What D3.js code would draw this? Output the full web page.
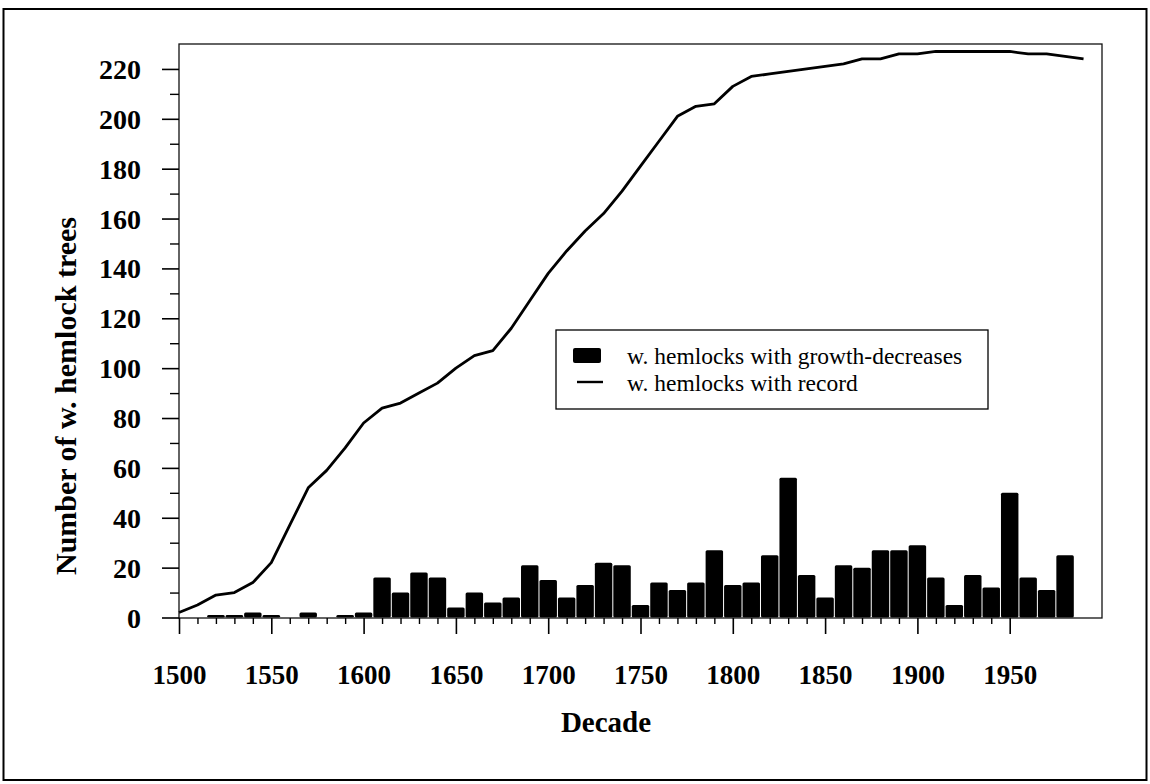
<!DOCTYPE html>
<html>
<head>
<meta charset="utf-8">
<script src="https://cdn.jsdelivr.net/npm/d3@7"></script>
<style>
    body { margin: 0; background: #fff; }
    svg { display: block; }
    .tick text { font-family: "Liberation Serif", "Times New Roman", serif; font-weight: bold; }
</style>
</head>
<body>
<svg width="1150" height="784"></svg>
<script>
// decade categories (x)
const decades = [1500, 1510, 1520, 1530, 1540, 1550, 1560, 1570, 1580, 1590,
    1600, 1610, 1620, 1630, 1640, 1650, 1660, 1670, 1680, 1690,
    1700, 1710, 1720, 1730, 1740, 1750, 1760, 1770, 1780, 1790,
    1800, 1810, 1820, 1830, 1840, 1850, 1860, 1870, 1880, 1890,
    1900, 1910, 1920, 1930, 1940, 1950, 1960, 1970, 1980, 1990];

// w. hemlocks with record (line)
const withRecord = [2, 5, 9, 10, 14, 22, 37, 52, 59, 68,
    78, 84, 86, 90, 94, 100, 105, 107, 116, 127,
    138, 147, 155, 162, 171, 181, 191, 201, 205, 206,
    213, 217, 218, 219, 220, 221, 222, 224, 224, 226,
    226, 227, 227, 227, 227, 227, 226, 226, 225, 224];

// w. hemlocks with growth-decreases (bars)
const growthDecreases = [0, 0, 1, 1, 2, 1, 0, 2, 0, 1,
    2, 16, 10, 18, 16, 4, 10, 6, 8, 21,
    15, 8, 13, 22, 21, 5, 14, 11, 14, 27,
    13, 14, 25, 56, 17, 8, 21, 20, 27, 27,
    29, 16, 5, 17, 12, 50, 16, 11, 25, 0];

const yMajorTicks = [0, 20, 40, 60, 80, 100, 120, 140, 160, 180, 200, 220];
const yMinorTicks = [10, 30, 50, 70, 90, 110, 130, 150, 170, 190, 210];
const xMajorTicks = [1500, 1550, 1600, 1650, 1700, 1750, 1800, 1850, 1900, 1950];
const xMinorTicks = [1510, 1520, 1530, 1540, 1560, 1570, 1580, 1590, 1610, 1620, 1630, 1640,
    1660, 1670, 1680, 1690, 1710, 1720, 1730, 1740, 1760, 1770, 1780, 1790,
    1810, 1820, 1830, 1840, 1860, 1870, 1880, 1890, 1910, 1920, 1930, 1940];

const legendLabels = ["w. hemlocks with growth-decreases", "w. hemlocks with record"];

const serif = '"Liberation Serif", "Times New Roman", serif';

const svg = d3.select("svg"),
    width = +svg.attr("width"),
    height = +svg.attr("height");

const plot = { left: 179, right: 1102, top: 44, bottom: 618 };

const x = d3.scaleLinear().domain([1500, 2000]).range([plot.left, plot.right]);
const y = d3.scaleLinear().domain([0, 230]).range([617.5, plot.top]);

// outer frame round the whole figure
svg.append("rect")
    .attr("x", 3.5)
    .attr("y", 9)
    .attr("width", width - 7)
    .attr("height", height - 13)
    .attr("fill", "none")
    .attr("stroke", "#000")
    .attr("stroke-width", 2);

svg.append("defs").append("clipPath")
    .attr("id", "plotclip")
    .append("rect")
    .attr("x", plot.left)
    .attr("y", plot.top)
    .attr("width", plot.right - plot.left)
    .attr("height", plot.bottom - plot.top);

const barW = x(1510) - x(1500) - 1;

// bars, centred on each decade
svg.append("g")
    .attr("clip-path", "url(#plotclip)")
    .selectAll("rect")
    .data(decades)
    .enter().append("rect")
    .attr("x", function(d) { return x(d) - barW / 2; })
    .attr("y", function(d, i) { return y(growthDecreases[i]); })
    .attr("width", barW)
    .attr("height", function(d, i) { return y(0) - y(growthDecreases[i]); })
    .attr("rx", 1.5)
    .attr("fill", "#000");

// record line
const line = d3.line()
    .x(function(d) { return x(d); })
    .y(function(d, i) { return y(withRecord[i]); });

svg.append("path")
    .datum(decades)
    .attr("d", line)
    .attr("fill", "none")
    .attr("stroke", "#000")
    .attr("stroke-width", 2.8)
    .attr("stroke-linejoin", "round");

// plot box
svg.append("rect")
    .attr("x", plot.left)
    .attr("y", plot.top)
    .attr("width", plot.right - plot.left)
    .attr("height", plot.bottom - plot.top)
    .attr("fill", "none")
    .attr("stroke", "#111")
    .attr("stroke-width", 1.3);

// y axis
const yAxis = svg.append("g")
    .attr("transform", "translate(" + plot.left + ",0)")
    .call(d3.axisLeft(y).tickValues(yMajorTicks).tickSize(17).tickPadding(21));
yAxis.select(".domain").remove();
yAxis.selectAll(".tick line").attr("stroke-width", 1.6);
yAxis.selectAll(".tick text").style("font-size", "28px").attr("dy", "0.34em");

const yMinor = svg.append("g")
    .attr("transform", "translate(" + plot.left + ",0)")
    .call(d3.axisLeft(y).tickValues(yMinorTicks).tickSize(9).tickFormat(""));
yMinor.select(".domain").remove();
yMinor.selectAll(".tick line").attr("stroke-width", 1.4);

// x axis
const xAxis = svg.append("g")
    .attr("transform", "translate(0," + plot.bottom + ")")
    .call(d3.axisBottom(x).tickValues(xMajorTicks).tickSize(16).tickPadding(31).tickFormat(d3.format("d")));
xAxis.select(".domain").remove();
xAxis.selectAll(".tick line").attr("stroke-width", 1.6);
xAxis.selectAll(".tick text").style("font-size", "27px");

const xMinor = svg.append("g")
    .attr("transform", "translate(0," + plot.bottom + ")")
    .call(d3.axisBottom(x).tickValues(xMinorTicks).tickSize(6).tickFormat(""));
xMinor.select(".domain").remove();
xMinor.selectAll(".tick line").attr("stroke-width", 1.4);

// axis titles
svg.append("text")
    .attr("x", 606)
    .attr("y", 732)
    .attr("text-anchor", "middle")
    .style("font-family", serif)
    .style("font-weight", "bold")
    .style("font-size", "29px")
    .text("Decade");

svg.append("text")
    .attr("transform", "translate(76,396) rotate(-90)")
    .attr("text-anchor", "middle")
    .style("font-family", serif)
    .style("font-weight", "bold")
    .style("font-size", "30px")
    .text("Number of w. hemlock trees");

// legend
const legend = svg.append("g").attr("class", "legend");

legend.append("rect")
    .attr("x", 556)
    .attr("y", 330)
    .attr("width", 432)
    .attr("height", 79)
    .attr("fill", "#fff")
    .attr("stroke", "#000")
    .attr("stroke-width", 1.3);

legend.append("rect")
    .attr("x", 573)
    .attr("y", 348)
    .attr("width", 28)
    .attr("height", 15)
    .attr("rx", 2)
    .attr("fill", "#000");

legend.append("line")
    .attr("x1", 577)
    .attr("x2", 603)
    .attr("y1", 382)
    .attr("y2", 382)
    .attr("stroke", "#000")
    .attr("stroke-width", 2.4);

legend.selectAll("text.label")
    .data(legendLabels)
    .enter().append("text")
    .attr("class", "label")
    .attr("x", 627)
    .attr("y", function(d, i) { return 364 + i * 27; })
    .style("font-family", serif)
    .style("font-size", "23.5px")
    .text(function(d) { return d; });
</script>
</body>
</html>
